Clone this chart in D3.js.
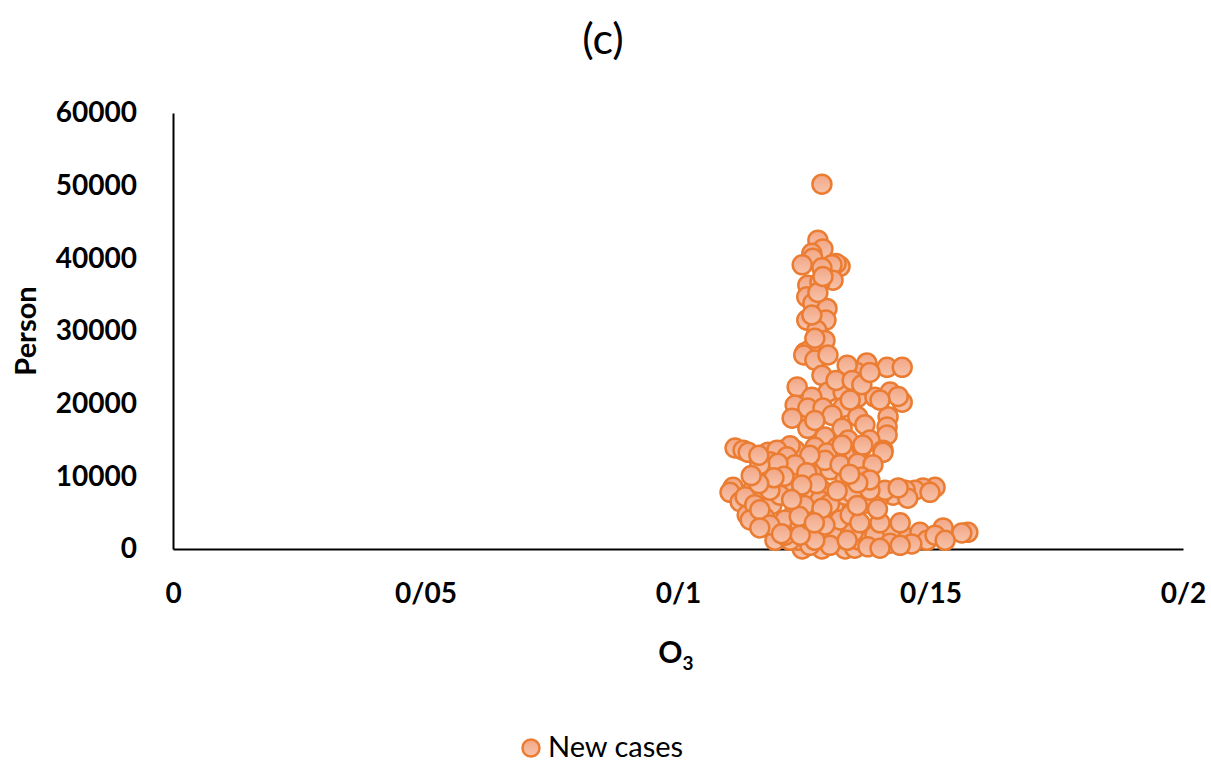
<!DOCTYPE html>
<html>
<head>
<meta charset="utf-8">
<script src="https://cdn.jsdelivr.net/npm/d3@7"></script>
<style>
  html, body { margin: 0; padding: 0; background: #fff; }
  svg { display: block; }
</style>
</head>
<body>
<svg id="chart" width="1211" height="762"></svg>
<script>
// ---- data ----
const title = "(c)";
const seriesName = "New cases";
const xTicks = [0, 0.05, 0.1, 0.15, 0.2];
const xTickLabels = ["0", "0/05", "0/1", "0/15", "0/2"];
const yTicks = [0, 10000, 20000, 30000, 40000, 50000, 60000];
const yTickLabels = ["0", "10000", "20000", "30000", "40000", "50000", "60000"];

// O3 concentration values
const o3 = [
  0.1285, 0.1277, 0.1287, 0.1265, 0.1267, 0.1246, 0.1321, 0.1313, 0.1305, 0.1285,
  0.1307, 0.1257, 0.1281, 0.1255, 0.1267, 0.1295, 0.1293, 0.1255, 0.1275, 0.1291,
  0.1251, 0.1261, 0.1271, 0.1265, 0.1277, 0.1287, 0.1249,
  0.1271, 0.1297, 0.1374, 0.1414, 0.1444, 0.1354, 0.1335, 0.1285, 0.1236, 0.1297,
  0.1327, 0.1356, 0.1390, 0.1420, 0.1444, 0.1436, 0.1265, 0.1232, 0.1257, 0.1287,
  0.1327, 0.1226, 0.1305, 0.1356, 0.1416, 0.1257, 0.1325, 0.1370, 0.1414, 0.1414,
  0.1291, 0.1313, 0.1345, 0.1364, 0.1380, 0.1400, 0.1341, 0.1271, 0.1337, 0.1380,
  0.1305, 0.1350,
  0.1113, 0.1129, 0.1139, 0.1178, 0.1206, 0.1232, 0.1271, 0.1315, 0.1364, 0.1406,
  0.1366, 0.1222, 0.1196,
  0.1182, 0.1216, 0.1257, 0.1295, 0.1325, 0.1109, 0.1103, 0.1123, 0.1147, 0.1166,
  0.1186, 0.1216, 0.1238, 0.1285, 0.1265, 0.1232, 0.1137, 0.1172, 0.1192, 0.1226,
  0.1271, 0.1305, 0.1246, 0.1285, 0.1331, 0.1238, 0.1192,
  0.1133, 0.1152, 0.1143, 0.1162, 0.1172, 0.1202, 0.1226, 0.1242, 0.1271, 0.1301,
  0.1331, 0.1251, 0.1202, 0.1182, 0.1212, 0.1242, 0.1281, 0.1309, 0.1321, 0.1222,
  0.1261, 0.1301, 0.1350, 0.1271, 0.1360, 0.1291, 0.1341, 0.1182, 0.1162, 0.1212,
  0.1242, 0.1281, 0.1261, 0.1331, 0.1291, 0.1321, 0.1261, 0.1232, 0.1198, 0.1162,
  0.1160,
  0.1406, 0.1356, 0.1386, 0.1364, 0.1509, 0.1485, 0.1469, 0.1450, 0.1426, 0.1400,
  0.1345, 0.1455, 0.1374, 0.1347, 0.1390, 0.1424, 0.1455, 0.1479, 0.1525, 0.1574,
  0.1562, 0.1493, 0.1420, 0.1376, 0.1335, 0.1400, 0.1440, 0.1360, 0.1410, 0.1380,
  0.1436, 0.1499, 0.1463, 0.1509, 0.1529, 0.1440, 0.1400, 0.1380, 0.1356,
  0.1255, 0.1275, 0.1245, 0.1210, 0.1190, 0.1250, 0.1300, 0.1315, 0.1285, 0.1240,
  0.1225, 0.1270, 0.1340, 0.1355, 0.1395, 0.1205, 0.1160, 0.1145
];

// New cases (persons)
const newCases = [
  50200, 42500, 41300, 40700, 40000, 39100, 38900, 39300, 39100, 38700,
  37000, 36300, 36700, 34700, 33800, 33100, 31500, 31500, 30100, 28700,
  27000, 27400, 29000, 32200, 35300, 37500, 26700,
  26000, 26700, 25600, 25000, 25000, 24300, 25300, 23900, 22300, 21600,
  21600, 20900, 20900, 21600, 20200, 21000, 20900, 19800, 19400, 19400,
  19500, 18000, 18400, 18200, 18200, 16600, 16600, 17100, 16800, 15700,
  15400, 23200, 23200, 22600, 24300, 20500, 20500, 17700, 15000, 15000,
  12900, 12900,
  13900, 13600, 13300, 13300, 13600, 13600, 14000, 14000, 14000, 13600,
  14300, 14200, 13600,
  12000, 12700, 11600, 13200, 14300, 8500, 7800, 6500, 8100, 7400,
  6100, 8500, 7200, 8100, 5100, 5400, 4700, 4300, 2600, 3000,
  2600, 2200, 0, 0, 0, 1200, 1200,
  7200, 6100, 4000, 5400, 9500, 10200, 10900, 9500, 10200, 10900,
  9500, 8100, 7400, 8100, 4000, 3300, 4700, 6100, 4000, 1200,
  500, 500, 100, 1200, 1200, 3300, 4700, 3300, 2900, 1900,
  1900, 6700, 4000, 7400, 12200, 11600, 12900, 11600, 11800, 11600,
  12900,
  13300, 11800, 11600, 9900, 8500, 8400, 8100, 8100, 7400, 7400,
  7700, 7000, 6300, 2300, 1900, 2600, 1500, 2300, 2900, 2300,
  2200, 1200, 800, 300, 1200, 3600, 3600, 3600, 8100, 8100,
  8400, 7800, 700, 1900, 1200, 500, 100, 9500, 9100,
  10500, 9000, 8800, 10000, 9800, 6000, 6200, 8000, 5600, 4500,
  6800, 3600, 10300, 6000, 5500, 2100, 9000, 10100
];

const points = o3.map((v, i) => ({ x: v, y: newCases[i] }));

// ---- drawing ----
const svg = d3.select("#chart");
const FONT = "Lato, 'Open Sans', 'DejaVu Sans', sans-serif";
const mLeft = 173, mRight = 1183, mTop = 113, mBottom = 549;

const x = d3.scaleLinear().domain([0, 0.2]).range([mLeft, mRight]);
const y = d3.scaleLinear().domain([0, 60000]).range([mBottom, mTop]);

// gradient for markers
const defs = svg.append("defs");
const grad = defs.append("linearGradient")
  .attr("id", "mk").attr("x1", 0).attr("y1", 0).attr("x2", 0).attr("y2", 1);
grad.append("stop").attr("offset", "0%").attr("stop-color", "#F2A685");
grad.append("stop").attr("offset", "100%").attr("stop-color", "#F7C4AC");

// title
svg.append("text")
  .attr("x", 603).attr("y", 54)
  .attr("text-anchor", "middle")
  .attr("font-family", FONT).attr("font-size", 43)
  .attr("fill", "#000")
  .text(title);

// y axis
const yAxis = d3.axisLeft(y).tickValues(yTicks)
  .tickFormat((d, i) => yTickLabels[i]).tickSize(0).tickPadding(36);
const gy = svg.append("g").attr("transform", `translate(${mLeft},0)`).call(yAxis);
gy.select(".domain").attr("stroke", "#000").attr("stroke-width", 2);
gy.selectAll("text").attr("font-family", FONT).attr("font-size", 28)
  .attr("font-weight", "bold").attr("fill", "#000");

// x axis
const xAxis = d3.axisBottom(x).tickValues(xTicks)
  .tickFormat((d, i) => xTickLabels[i]).tickSize(0).tickPadding(34);
const gx = svg.append("g").attr("transform", `translate(0,${mBottom})`).call(xAxis);
gx.select(".domain").attr("stroke", "#000").attr("stroke-width", 2);
gx.selectAll("text").attr("font-family", FONT).attr("font-size", 28)
  .attr("font-weight", "bold").attr("fill", "#000");

// axis titles
const xt = svg.append("text")
  .attr("x", 676).attr("y", 663)
  .attr("text-anchor", "middle")
  .attr("font-family", FONT).attr("font-size", 30).attr("font-weight", "bold")
  .attr("fill", "#000");
xt.append("tspan").text("O");
xt.append("tspan").attr("font-size", 19).attr("dy", 7).text("3");

svg.append("text")
  .attr("transform", "translate(36,331) rotate(-90)")
  .attr("text-anchor", "middle")
  .attr("font-family", FONT).attr("font-size", 29).attr("font-weight", "bold")
  .attr("fill", "#000")
  .text("Person");

// points
svg.append("g").selectAll("circle")
  .data(points).join("circle")
  .attr("cx", d => x(d.x))
  .attr("cy", d => y(d.y))
  .attr("r", 9.5)
  .attr("fill", "url(#mk)")
  .attr("stroke", "#EB7D33")
  .attr("stroke-width", 2.5);

// legend
const lg = svg.append("g");
lg.append("circle").attr("cx", 531).attr("cy", 748).attr("r", 8.5)
  .attr("fill", "url(#mk)").attr("stroke", "#EB7D33").attr("stroke-width", 2.5);
lg.append("text").attr("x", 548).attr("y", 757)
  .attr("font-family", FONT).attr("font-size", 29).attr("fill", "#000")
  .text(seriesName);
</script>
</body>
</html>
